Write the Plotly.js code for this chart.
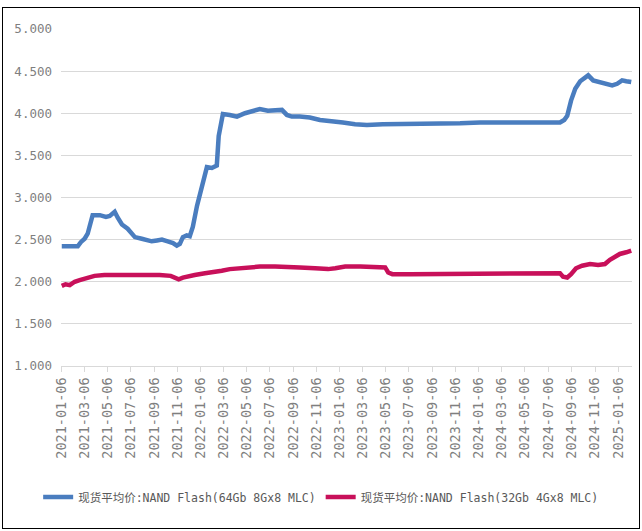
<!DOCTYPE html>
<html>
<head>
<meta charset="utf-8">
<script src="https://cdn.plot.ly/plotly-3.0.1.min.js"></script>
<style>
  html, body { margin: 0; padding: 0; background: #fff; }
  #wrap { position: relative; width: 642px; height: 531px; }
  #chart { position: absolute; left: 0; top: 0; width: 642px; height: 531px; }
  #frame { position: absolute; left: 2px; top: 7px; width: 636px; height: 520px; border: 1.5px solid #000; pointer-events: none; }
</style>
</head>
<body>
<div id="wrap"><div id="chart"></div><div id="frame"></div></div>
<script>
// Series 1: 现货平均价:NAND Flash(64Gb 8Gx8 MLC)
const datesA = ['2021-01-06','2021-01-27','2021-02-17','2021-02-25','2021-03-07','2021-03-15','2021-03-28','2021-04-16','2021-05-02','2021-05-12','2021-05-25','2021-06-02','2021-06-13','2021-06-28','2021-07-17','2021-08-04','2021-08-30','2021-09-13','2021-09-26','2021-10-11','2021-10-25','2021-11-04','2021-11-12','2021-11-20','2021-11-30','2021-12-08','2021-12-16','2021-12-27','2022-01-09','2022-01-22','2022-02-04','2022-02-17','2022-02-22','2022-03-05','2022-03-23','2022-04-11','2022-05-02','2022-05-20','2022-06-10','2022-07-01','2022-07-20','2022-08-07','2022-08-20','2022-09-02','2022-09-23','2022-10-19','2022-11-15','2022-12-11','2023-01-14','2023-02-15','2023-03-18','2023-04-29','2023-06-13','2023-08-04','2023-09-26','2023-11-18','2024-01-09','2024-03-02','2024-04-23','2024-06-15','2024-08-06','2024-08-17','2024-08-25','2024-09-04','2024-09-15','2024-09-28','2024-10-11','2024-10-19','2024-11-01','2024-11-19','2024-12-05','2024-12-21','2025-01-03','2025-01-16','2025-01-27','2025-02-09'];
const valuesA = [2.42,2.42,2.42,2.47,2.51,2.57,2.79,2.79,2.77,2.78,2.83,2.76,2.68,2.63,2.53,2.51,2.48,2.49,2.50,2.48,2.46,2.43,2.45,2.53,2.55,2.54,2.65,2.90,3.13,3.36,3.35,3.38,3.73,3.99,3.98,3.96,4.00,4.02,4.05,4.03,4.04,4.04,3.98,3.96,3.96,3.95,3.92,3.91,3.89,3.87,3.86,3.87,3.87,3.87,3.88,3.88,3.89,3.89,3.89,3.89,3.89,3.92,3.97,4.15,4.29,4.38,4.43,4.45,4.39,4.37,4.35,4.33,4.35,4.39,4.38,4.37];

// Series 2: 现货平均价:NAND Flash(32Gb 4Gx8 MLC)
const datesB = ['2021-01-06','2021-01-16','2021-01-27','2021-02-09','2021-02-22','2021-03-15','2021-04-02','2021-04-28','2021-06-07','2021-07-24','2021-08-25','2021-09-20','2021-10-19','2021-11-01','2021-11-09','2021-11-20','2021-12-08','2021-12-21','2022-01-17','2022-02-12','2022-03-02','2022-03-23','2022-04-19','2022-05-10','2022-06-10','2022-07-20','2022-08-23','2022-09-23','2022-11-02','2022-12-06','2022-12-25','2023-01-20','2023-03-01','2023-04-09','2023-05-05','2023-05-13','2023-05-24','2023-07-10','2023-09-01','2023-11-18','2024-02-06','2024-04-23','2024-06-28','2024-08-06','2024-08-14','2024-08-25','2024-09-04','2024-09-17','2024-10-03','2024-10-24','2024-11-14','2024-12-02','2024-12-15','2024-12-28','2025-01-10','2025-01-27','2025-02-09'];
const valuesB = [1.95,1.97,1.96,2.00,2.02,2.05,2.07,2.08,2.08,2.09,2.08,2.08,2.07,2.05,2.03,2.05,2.07,2.08,2.10,2.11,2.13,2.15,2.16,2.18,2.18,2.18,2.18,2.17,2.16,2.15,2.16,2.18,2.18,2.18,2.17,2.11,2.09,2.09,2.09,2.10,2.10,2.10,2.10,2.10,2.06,2.05,2.09,2.16,2.19,2.21,2.20,2.21,2.26,2.30,2.33,2.35,2.37];

const nameA = '现货平均价:NAND Flash(64Gb 8Gx8 MLC)';
const nameB = '现货平均价:NAND Flash(32Gb 4Gx8 MLC)';

const tickDates = ['2021-01-06','2021-03-06','2021-05-06','2021-07-06','2021-09-06','2021-11-06','2022-01-06','2022-03-06','2022-05-06','2022-07-06','2022-09-06','2022-11-06','2023-01-06','2023-03-06','2023-05-06','2023-07-06','2023-09-06','2023-11-06','2024-01-06','2024-03-06','2024-05-06','2024-07-06','2024-09-06','2024-11-06','2025-01-06'];
const yTicks = [1, 1.5, 2, 2.5, 3, 3.5, 4, 4.5, 5];

const traces = [
  { x: datesA, y: valuesA, name: nameA, type: 'scatter', mode: 'lines',
    line: { color: '#4a7dbf', width: 4.5 } },
  { x: datesB, y: valuesB, name: nameB, type: 'scatter', mode: 'lines',
    line: { color: '#c8105a', width: 4.5 } }
];

const layout = {
  width: 642, height: 531,
  margin: { l: 61, r: 10, t: 29, b: 165 },
  paper_bgcolor: '#ffffff', plot_bgcolor: '#ffffff',
  font: { family: 'DejaVu Sans Mono, Noto Sans CJK SC, sans-serif', color: '#595959', size: 11 },
  showlegend: true,
  legend: {
    orientation: 'h', x: -0.04, xanchor: 'left', y: -0.389, yanchor: 'middle',
    font: { family: 'DejaVu Sans Mono, Noto Sans CJK SC, sans-serif', size: 11.5, color: '#595959' },
    itemwidth: 30, tracegroupgap: 0
  },
  xaxis: {
    type: 'date', range: ['2021-01-04', '2025-02-11'],
    tickmode: 'array', tickvals: tickDates, ticktext: tickDates,
    tickangle: -90, tickfont: { family: 'DejaVu Sans Mono, monospace', size: 13.5, color: '#7f7f7f' },
    showgrid: false, showline: true, linecolor: '#d9d9d9', linewidth: 1,
    ticks: 'outside', ticklen: 5, tickcolor: '#d9d9d9', zeroline: false
  },
  yaxis: {
    range: [1, 5], tickmode: 'array', tickvals: yTicks, tickformat: '.3f',
    tickfont: { family: 'DejaVu Sans Mono, monospace', size: 12.5, color: '#7f7f7f' },
    showgrid: true, gridcolor: '#d9d9d9', gridwidth: 1, zeroline: false,
    showline: false, ticks: '', ticklabelstandoff: 8
  }
};

Plotly.newPlot('chart', traces, layout, { displayModeBar: false, staticPlot: true });
</script>
</body>
</html>
